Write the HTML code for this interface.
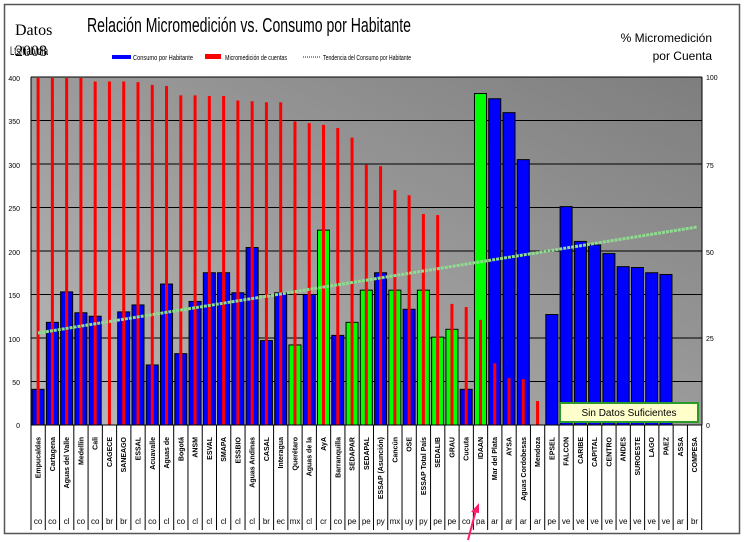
<!DOCTYPE html>
<html><head><meta charset="utf-8">
<style>
html,body{margin:0;padding:0;background:#fff;width:747px;height:542px;overflow:hidden}
svg{display:block}
text{font-family:"Liberation Sans",sans-serif}
</style></head><body>
<svg id="s" width="747" height="542" viewBox="0 0 747 542" xmlns="http://www.w3.org/2000/svg">
<defs>
<linearGradient id="bg" x1="0" y1="1" x2="1" y2="0">
<stop offset="0" stop-color="#b8b8b8"/><stop offset="1" stop-color="#7e7e7e"/>
</linearGradient>
</defs>
<rect x="4.5" y="4.5" width="735" height="529" fill="#fff" stroke="#555" stroke-width="1.5"/>
<rect x="31" y="77" width="671" height="348" fill="url(#bg)"/>
<g id="grid"></g>
<g id="bars"></g>
<line x1="38" y1="333" x2="697" y2="227" stroke="#8fdc8f" stroke-width="3" stroke-dasharray="3 1"/>
<line x1="31" y1="77" x2="31" y2="425" stroke="#000"/>
<line x1="702" y1="77" x2="702" y2="425" stroke="#000"/>
<line x1="31" y1="425" x2="702" y2="425" stroke="#000"/>
<g id="seps"></g>
<rect x="560" y="403" width="138" height="19" fill="#ffffcc" stroke="#2a9a2a" stroke-width="2"/>
<text x="629" y="416" font-size="10" text-anchor="middle">Sin Datos Suficientes</text>

<text x="249" y="32" font-size="20" text-anchor="middle" textLength="324" lengthAdjust="spacingAndGlyphs">Relación Micromedición vs. Consumo por Habitante</text>
<text x="15" y="35" font-size="16" style="font-family:'Liberation Serif',serif">Datos</text>
<text x="10" y="55" font-size="12" textLength="38" lengthAdjust="spacingAndGlyphs">Lts/hab/día</text>
<text x="15" y="56" font-size="16" style="font-family:'Liberation Serif',serif">2008</text>
<text x="712" y="42" font-size="12" text-anchor="end">% Micromedición</text>
<text x="712" y="60" font-size="12" text-anchor="end">por Cuenta</text>
<rect x="112" y="55" width="19" height="4" fill="#0000ff"/>
<text x="133" y="60" font-size="7" textLength="60" lengthAdjust="spacingAndGlyphs">Consumo por Habitante</text>
<rect x="205" y="54" width="16" height="5" fill="#ff0000"/>
<text x="225" y="60" font-size="7" textLength="62" lengthAdjust="spacingAndGlyphs">Micromedición de cuentas</text>
<line x1="303" y1="57" x2="321" y2="57" stroke="#5cb85c" stroke-width="2" stroke-dasharray="1 1"/>
<text x="323" y="60" font-size="7" textLength="88" lengthAdjust="spacingAndGlyphs">Tendencia del Consumo por Habitante</text>

<g font-size="7" text-anchor="end">
<text x="20" y="81">400</text><text x="20" y="124">350</text><text x="20" y="168">300</text><text x="20" y="211">250</text><text x="20" y="255">200</text><text x="20" y="298">150</text><text x="20" y="342">100</text><text x="20" y="385">50</text><text x="20" y="428">0</text>
</g>
<g font-size="7">
<text x="706" y="80">100</text><text x="706" y="168">75</text><text x="706" y="255">50</text><text x="706" y="341">25</text><text x="706" y="428">0</text>
</g>
<g font-size="7" font-weight="bold" text-anchor="end" id="labs">
<text transform="translate(40.6,437) rotate(-90)">Empucaldas</text>
<text transform="translate(54.9,437) rotate(-90)">Cartagena</text>
<text transform="translate(69.2,437) rotate(-90)">Aguas del Valle</text>
<text transform="translate(83.4,437) rotate(-90)">Medellín</text>
<text transform="translate(97.7,437) rotate(-90)">Cali</text>
<text transform="translate(112,437) rotate(-90)">CAGECE</text>
<text transform="translate(126.2,437) rotate(-90)">SANEAGO</text>
<text transform="translate(140.5,437) rotate(-90)">ESSAL</text>
<text transform="translate(154.8,437) rotate(-90)">Acuavalle</text>
<text transform="translate(169,437) rotate(-90)">Aguas de</text>
<text transform="translate(183.3,437) rotate(-90)">Bogotá</text>
<text transform="translate(197.6,437) rotate(-90)">ANSM</text>
<text transform="translate(211.8,437) rotate(-90)">ESVAL</text>
<text transform="translate(226.1,437) rotate(-90)">SMAPA</text>
<text transform="translate(240.4,437) rotate(-90)">ESSBIO</text>
<text transform="translate(254.7,437) rotate(-90)">Aguas Andinas</text>
<text transform="translate(268.9,437) rotate(-90)">CASAL</text>
<text transform="translate(283.2,437) rotate(-90)">Interagua</text>
<text transform="translate(297.5,437) rotate(-90)">Querétaro</text>
<text transform="translate(311.7,437) rotate(-90)">Aguas de la</text>
<text transform="translate(326,437) rotate(-90)">AyA</text>
<text transform="translate(340.3,437) rotate(-90)">Barranquilla</text>
<text transform="translate(354.5,437) rotate(-90)">SEDAPAR</text>
<text transform="translate(368.8,437) rotate(-90)">SEDAPAL</text>
<text transform="translate(383.1,437) rotate(-90)">ESSAP (Asunción)</text>
<text transform="translate(397.4,437) rotate(-90)">Cancún</text>
<text transform="translate(411.6,437) rotate(-90)">OSE</text>
<text transform="translate(425.9,437) rotate(-90)">ESSAP Total País</text>
<text transform="translate(440.2,437) rotate(-90)">SEDALIB</text>
<text transform="translate(454.4,437) rotate(-90)">GRAU</text>
<text transform="translate(468.7,437) rotate(-90)">Cucuta</text>
<text transform="translate(483,437) rotate(-90)">IDAAN</text>
<text transform="translate(497.2,437) rotate(-90)">Mar del Plata</text>
<text transform="translate(511.5,437) rotate(-90)">AYSA</text>
<text transform="translate(525.8,437) rotate(-90)">Aguas Cordobesas</text>
<text transform="translate(540.1,437) rotate(-90)">Mendoza</text>
<text transform="translate(554.3,437) rotate(-90)">EPSEL</text>
<text transform="translate(568.6,437) rotate(-90)">FALCON</text>
<text transform="translate(582.9,437) rotate(-90)">CARIBE</text>
<text transform="translate(597.1,437) rotate(-90)">CAPITAL</text>
<text transform="translate(611.4,437) rotate(-90)">CENTRO</text>
<text transform="translate(625.7,437) rotate(-90)">ANDES</text>
<text transform="translate(639.9,437) rotate(-90)">SUROESTE</text>
<text transform="translate(654.2,437) rotate(-90)">LAGO</text>
<text transform="translate(668.5,437) rotate(-90)">PAEZ</text>
<text transform="translate(682.8,437) rotate(-90)">ASSA</text>
<text transform="translate(697,437) rotate(-90)">COMPESA</text>
</g>
<g font-size="8" text-anchor="middle">
<text x="38.1" y="524">co</text><text x="52.4" y="524">co</text><text x="66.7" y="524">cl</text><text x="80.9" y="524">co</text><text x="95.2" y="524">co</text><text x="109.5" y="524">br</text><text x="123.7" y="524">br</text><text x="138" y="524">cl</text><text x="152.3" y="524">co</text><text x="166.5" y="524">cl</text><text x="180.8" y="524">co</text><text x="195.1" y="524">cl</text><text x="209.3" y="524">cl</text><text x="223.6" y="524">cl</text><text x="237.9" y="524">cl</text><text x="252.2" y="524">cl</text><text x="266.4" y="524">br</text><text x="280.7" y="524">ec</text><text x="295" y="524">mx</text><text x="309.2" y="524">cl</text><text x="323.5" y="524">cr</text><text x="337.8" y="524">co</text><text x="352" y="524">pe</text><text x="366.3" y="524">pe</text><text x="380.6" y="524">py</text><text x="394.9" y="524">mx</text><text x="409.1" y="524">uy</text><text x="423.4" y="524">py</text><text x="437.7" y="524">pe</text><text x="451.9" y="524">pe</text><text x="466.2" y="524">co</text><text x="480.5" y="524">pa</text><text x="494.7" y="524">ar</text><text x="509" y="524">ar</text><text x="523.3" y="524">ar</text><text x="537.6" y="524">ar</text><text x="551.8" y="524">pe</text><text x="566.1" y="524">ve</text><text x="580.4" y="524">ve</text><text x="594.6" y="524">ve</text><text x="608.9" y="524">ve</text><text x="623.2" y="524">ve</text><text x="637.4" y="524">ve</text><text x="651.7" y="524">ve</text><text x="666" y="524">ve</text><text x="680.3" y="524">ar</text><text x="694.5" y="524">br</text>
</g>
<line x1="468" y1="540" x2="476" y2="510" stroke="#ff1a6a" stroke-width="2"/>
<polygon points="479,503 471,512 479,513" fill="#ff1a6a"/>
</svg>
<script>
var NS="http://www.w3.org/2000/svg";
function el(p,t,a){var e=document.createElementNS(NS,t);for(var k in a)e.setAttribute(k,a[k]);document.getElementById(p).appendChild(e);}
var blue=[41,118,153,129,125,0,130,138,69,162,82,142,175,175,152,204,97,152,92,150,224,103,118,155,175,155,133,155,101,110,41,381,375,359,305,0,127,251,211,207,197,182,181,175,173,0,0];
var green={18:1,20:1,22:1,23:1,25:1,27:1,28:1,29:1,31:1};
var red=[100,100,100,100,99,99,99,98.8,98,97.7,95,95,94.8,94.8,93.5,93.3,93,93,87.5,87,86.5,85.6,82.8,75,74.6,67.7,66.2,60.8,60.5,34.9,34,30.3,17.8,13.5,13.2,6.9,0,0,0,0,0,0,0,0,0,0,0];
for(var v=50;v<=400;v+=50){var y=425-v*0.87;el("grid","line",{x1:31,y1:y,x2:702,y2:y,stroke:"#000","stroke-width":1});}
for(var i=0;i<47;i++){
 var c=38.1+14.27*i;
 if(blue[i]>0){var h=blue[i]*0.87;el("bars","rect",{x:c-6,y:425-h,width:12,height:h,fill:green[i]?"#00ff00":"#0000ff",stroke:"#000","stroke-width":1});}
 if(red[i]>0){var h2=red[i]*3.47;el("bars","rect",{x:c-1.5,y:425-h2,width:3,height:h2,fill:"#ff0000"});}
}
for(var i=0;i<=47;i++){var x=31+14.27*i;el("seps","line",{x1:x,y1:425,x2:x,y2:530,stroke:"#000","stroke-width":1});}
</script>
</body></html>
